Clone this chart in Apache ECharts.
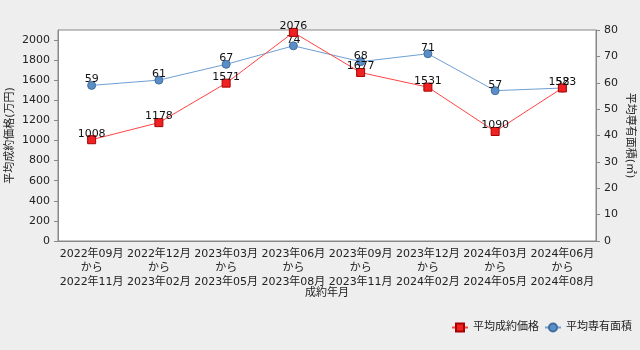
<!DOCTYPE html>
<html>
<head>
<meta charset="utf-8">
<script src="https://cdn.jsdelivr.net/npm/echarts@6/dist/echarts.min.js"></script>
<style>
html,body{margin:0;padding:0;background:#eeeeee;}
#chart{width:640px;height:350px;}
</style>
</head>
<body>
<div id="chart"></div>
<script>
// Contract periods (quarters), shown as "start から end"
const periodStart = ['2022年09月','2022年12月','2023年03月','2023年06月','2023年09月','2023年12月','2024年03月','2024年06月'];
const periodEnd   = ['2022年11月','2023年02月','2023年05月','2023年08月','2023年11月','2024年02月','2024年05月','2024年08月'];
// Average contract price (万円)
const avgPrice = [1008, 1178, 1571, 2076, 1677, 1531, 1090, 1523];
// Average floor area (㎡)
const avgArea = [59, 61, 67, 74, 68, 71, 57, 58];

const categories = periodStart.map((s, i) => s + '\nから\n' + periodEnd[i]);

const FONT = 'DejaVu Sans, "Noto Sans CJK JP", sans-serif';
const chart = echarts.init(document.getElementById('chart'), null, {renderer: 'canvas'});

chart.setOption({
  backgroundColor: '#eeeeee',
  textStyle: {fontFamily: FONT},
  animation: false,
  grid: {
    left: 58, right: 44, top: 30, bottom: 109,
    containLabel: false, outerBoundsMode: 'none',
    show: true, backgroundColor: '#ffffff', borderColor: '#888888', borderWidth: 1
  },
  legend: {
    right: 3, bottom: 12,
    itemGap: 5, itemWidth: 16, itemHeight: 10,
    textStyle: {fontSize: 11, color: '#222', fontFamily: FONT},
    data: ['平均成約価格', '平均専有面積']
  },
  xAxis: {
    type: 'category',
    data: categories,
    boundaryGap: true,
    name: '成約年月',
    nameLocation: 'middle',
    nameGap: 47,
    nameMoveOverlap: false,
    nameTextStyle: {fontSize: 11, color: '#222', fontFamily: FONT},
    axisLine: {lineStyle: {color: '#888888'}},
    axisTick: {alignWithLabel: true, length: 4, lineStyle: {color: '#888888'}},
    axisLabel: {fontSize: 11, color: '#222', lineHeight: 14, margin: 6, interval: 0, fontFamily: FONT},
    splitLine: {show: false}
  },
  yAxis: [
    {
      type: 'value', min: 0, max: 2100, interval: 200,
      name: '平均成約価格(万円)',
      nameLocation: 'middle', nameRotate: 90, nameGap: 42,
      nameMoveOverlap: false,
      nameTextStyle: {fontSize: 11, color: '#222', fontFamily: FONT},
      axisLine: {show: true, lineStyle: {color: '#888888'}},
      axisTick: {show: true, length: 4, lineStyle: {color: '#888888'}},
      axisLabel: {fontSize: 11, color: '#222', margin: 8, showMaxLabel: false, fontFamily: FONT,
                  formatter: v => String(v)},
      splitLine: {show: false}
    },
    {
      type: 'value', min: 0, max: 80, interval: 10,
      name: '平均専有面積(㎡)',
      nameLocation: 'middle', nameRotate: -90, nameGap: 28,
      nameMoveOverlap: false,
      nameTextStyle: {fontSize: 11, color: '#222', fontFamily: FONT},
      position: 'right',
      axisLine: {show: true, lineStyle: {color: '#888888'}},
      axisTick: {show: true, length: 4, lineStyle: {color: '#888888'}},
      axisLabel: {fontSize: 11, color: '#222', margin: 8, fontFamily: FONT,
                  formatter: v => String(v)},
      splitLine: {show: false}
    }
  ],
  series: [
    {
      name: '平均専有面積',
      type: 'line',
      yAxisIndex: 1,
      data: avgArea,
      symbol: 'circle',
      symbolSize: 8,
      lineStyle: {color: '#6f9fd3', width: 1},
      itemStyle: {color: '#5b8ec6', borderColor: '#3f6f9f', borderWidth: 1},
      label: {show: true, position: 'top', distance: -4, fontSize: 11, color: '#111', fontFamily: FONT},
      z: 2
    },
    {
      name: '平均成約価格',
      type: 'line',
      yAxisIndex: 0,
      data: avgPrice,
      symbol: 'rect',
      symbolSize: 8,
      lineStyle: {color: '#ff4444', width: 1},
      itemStyle: {color: '#ee2222', borderColor: '#aa0000', borderWidth: 1},
      label: {show: true, position: 'top', distance: -4, fontSize: 11, color: '#111', fontFamily: FONT},
      z: 3
    }
  ]
});
</script>
</body>
</html>
